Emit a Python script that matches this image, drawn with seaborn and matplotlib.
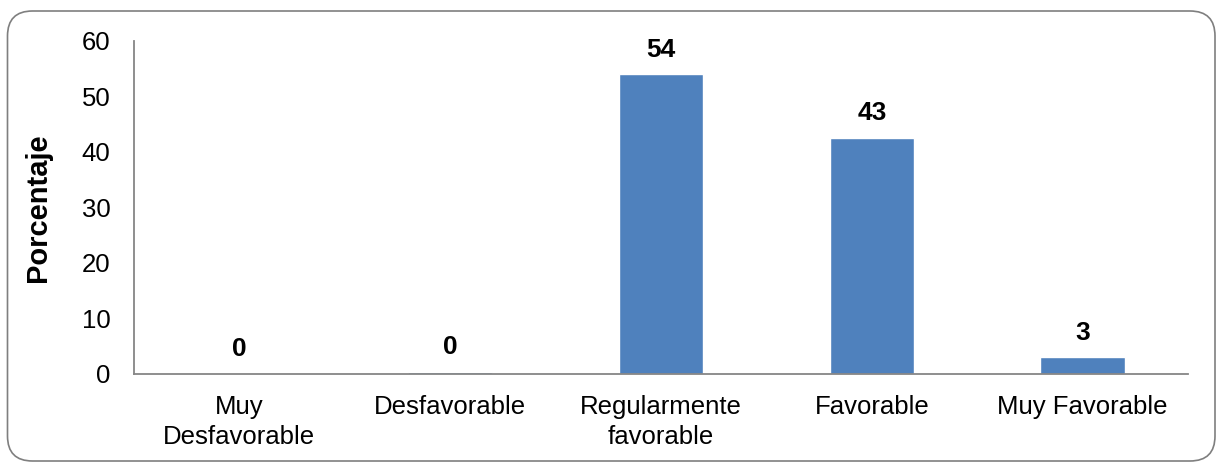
import matplotlib
matplotlib.use("Agg")
import matplotlib.pyplot as plt
from matplotlib.patches import FancyBboxPatch
import seaborn as sns
import pandas as pd

categorias = ["Muy\nDesfavorable", "Desfavorable", "Regularmente\nfavorable",
              "Favorable", "Muy Favorable"]
porcentajes = [0.0, 0.4, 54.0, 42.6, 3.0]
y_ticks = [0, 10, 20, 30, 40, 50, 60]

sns.set_theme(style="white")
plt.rcParams["font.family"] = ["Liberation Sans", "DejaVu Sans"]

df = pd.DataFrame({"categoria": categorias, "porcentaje": porcentajes})

fig = plt.figure(figsize=(12.18, 4.62), dpi=100)
ax = fig.add_axes([0.110, 0.1905, 0.8654, 0.7208])

sns.barplot(data=df, x="categoria", y="porcentaje", color="#4F81BD",
            saturation=1, width=0.4, ax=ax)

ax.set_xlim(-0.5, 4.5)
ax.set_ylim(0, 60)
ax.set_yticks(y_ticks)
ax.tick_params(axis="y", length=0, pad=17, labelsize=18.5, colors="black")
ax.tick_params(axis="x", length=0, pad=15, labelsize=18.5, colors="black")
for lbl in ax.get_xticklabels():
    lbl.set_multialignment("center")
    lbl.set_linespacing(1.32)

ax.set_xlabel("")
ax.set_ylabel("Porcentaje", fontsize=21, fontweight="bold", color="black")
ax.yaxis.set_label_coords(-0.078, 0.5)

for side in ["top", "right"]:
    ax.spines[side].set_visible(False)
for side in ["left", "bottom"]:
    ax.spines[side].set_color("#868686")
    ax.spines[side].set_linewidth(1.3)

# value labels above each bar
for i, v in enumerate(porcentajes):
    ax.annotate(f"{v:.0f}", xy=(i, v), xytext=(0, 9), textcoords="offset points",
                ha="center", va="bottom", fontsize=19, fontweight="bold",
                color="black")

# rounded outer frame
frame = FancyBboxPatch((0.075, 0.01), 12.075, 4.50,
                       boxstyle="round,pad=0,rounding_size=0.25",
                       transform=fig.dpi_scale_trans, fill=False,
                       edgecolor="#7F7F7F", linewidth=1.2)
fig.patches.append(frame)

fig.savefig("out.png", dpi=100)
